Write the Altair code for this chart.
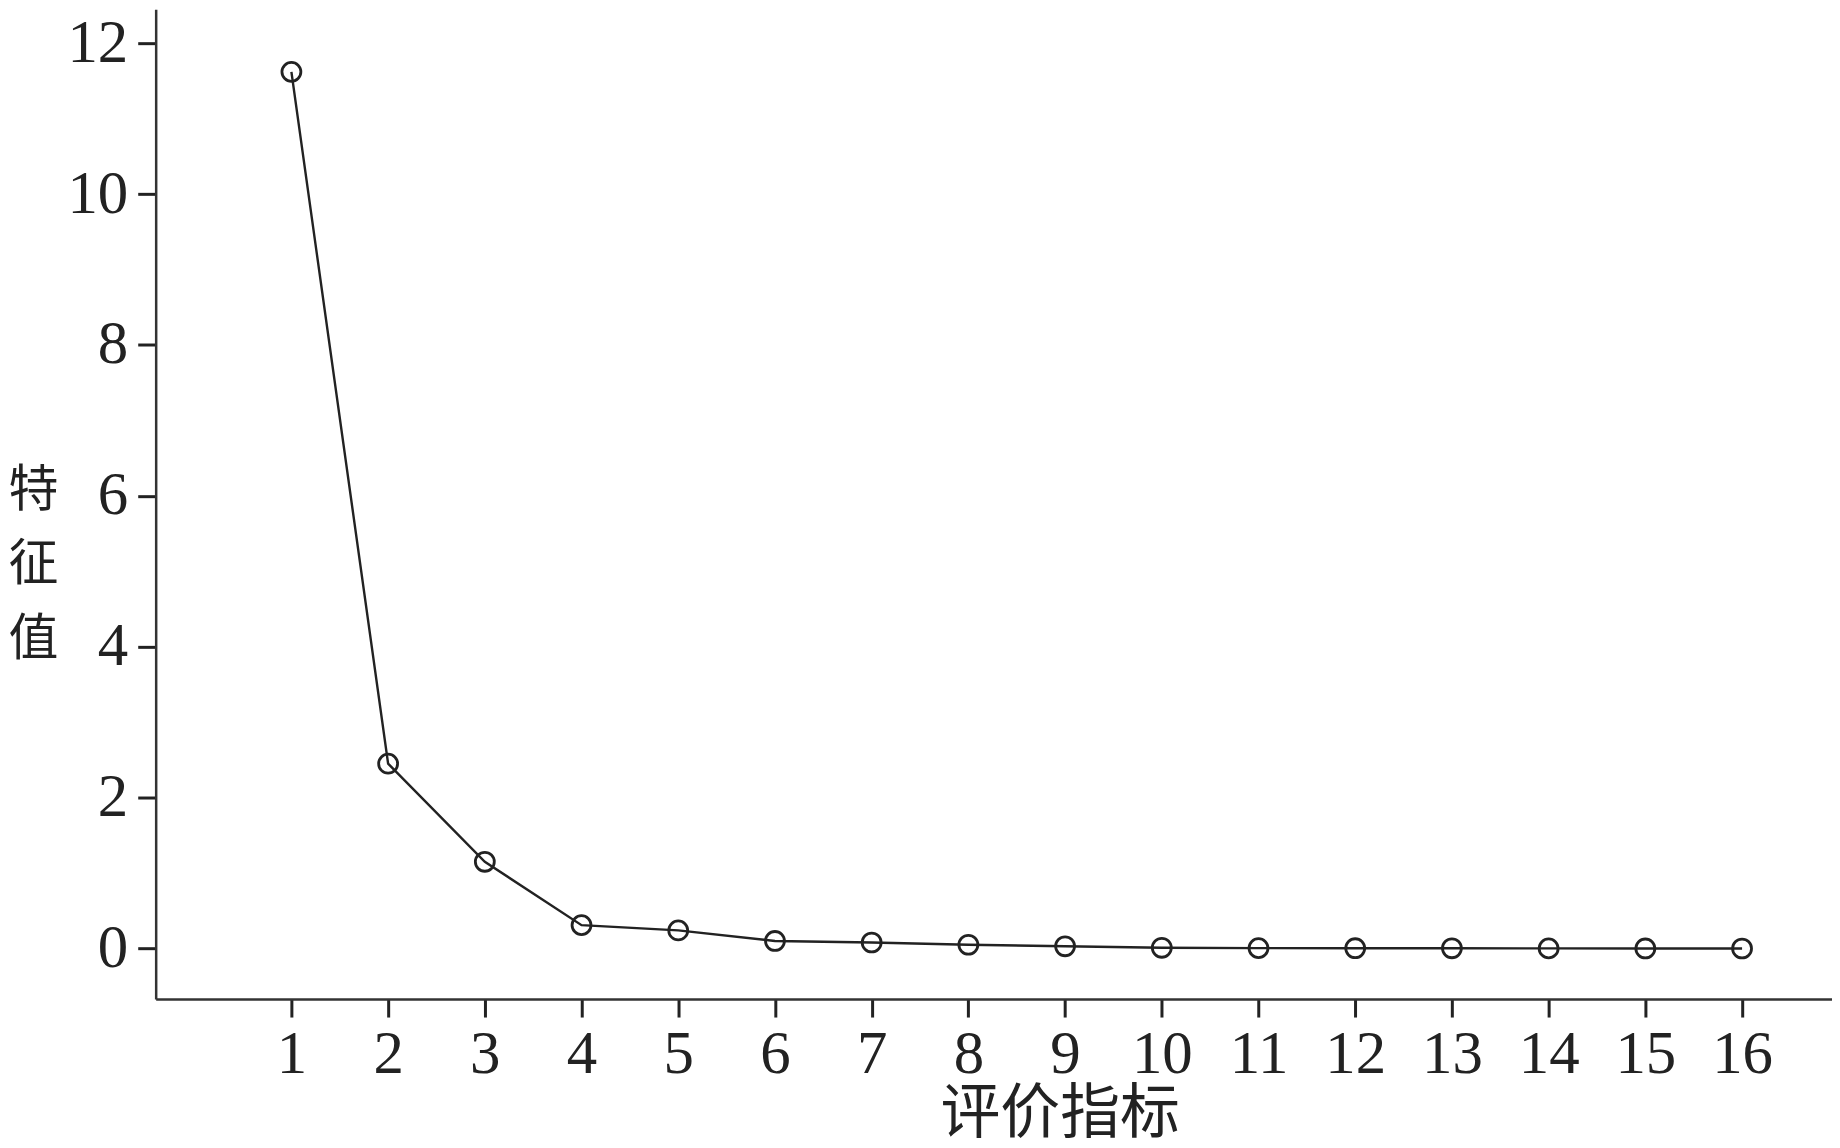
import altair as alt
import pandas as pd

indicators = list(range(1, 17))
eigenvalues = [11.62, 2.45, 1.15, 0.31, 0.24, 0.10, 0.08, 0.05, 0.03, 0.01,
               0.005, 0.004, 0.003, 0.002, 0.001, 0.0005]
x_ticks = list(range(1, 17))
y_ticks = [0, 2, 4, 6, 8, 10, 12]

df = pd.DataFrame({"idx": indicators, "val": eigenvalues})

SERIF = "Liberation Serif"
CJK = "Liberation Serif, Noto Sans CJK SC, serif"

x_enc = alt.X(
    "idx:Q",
    scale=alt.Scale(domain=[-0.4035, 16.93], nice=False, zero=False),
    axis=alt.Axis(
        values=x_ticks, format="d", title="评价指标",
        titleFont=CJK, titleFontSize=60, titleFontWeight="normal", titleColor="#222",
        titleX=906, titleY=134, titleAlign="center", titleBaseline="alphabetic",
        labelFont=SERIF, labelFontSize=61, labelColor="#222", labelPadding=8,
        tickSize=18, tickWidth=3, tickColor="#222",
        domainColor="#333", domainWidth=2.5, grid=False, labelFlush=False,
        labelOverlap=False,
    ),
)
y_enc = alt.Y(
    "val:Q",
    scale=alt.Scale(domain=[-0.67, 12.45], nice=False, zero=False),
    axis=alt.Axis(
        values=y_ticks, title=["特", "征", "值"],
        titleFont=CJK, titleFontSize=50, titleFontWeight="normal", titleColor="#222",
        titleAngle=0, titleX=-123, titleY=482, titleAlign="center",
        titleBaseline="middle", titleLineHeight=75,
        labelFont=SERIF, labelFontSize=61, labelColor="#222", labelPadding=10,
        tickSize=18, tickWidth=3, tickColor="#222",
        domainColor="#333", domainWidth=2.5, grid=False, labelFlush=False,
    ),
)

line = alt.Chart(df).mark_line(color="#222", strokeWidth=2.4).encode(x=x_enc, y=y_enc)
pts = alt.Chart(df).mark_point(
    shape="circle", filled=False, color="#222", strokeWidth=2.8, size=360, opacity=1
).encode(x=x_enc, y=y_enc)

chart = (
    alt.layer(line, pts)
    .properties(
        width=1680, height=992,
        autosize=alt.AutoSizeParams(type="none"),
        padding={"left": 148, "top": 0, "right": 0, "bottom": 148},
    )
    .configure_view(stroke=None)
)

chart.save("out.html", embed_options={"renderer": "svg", "actions": False})
